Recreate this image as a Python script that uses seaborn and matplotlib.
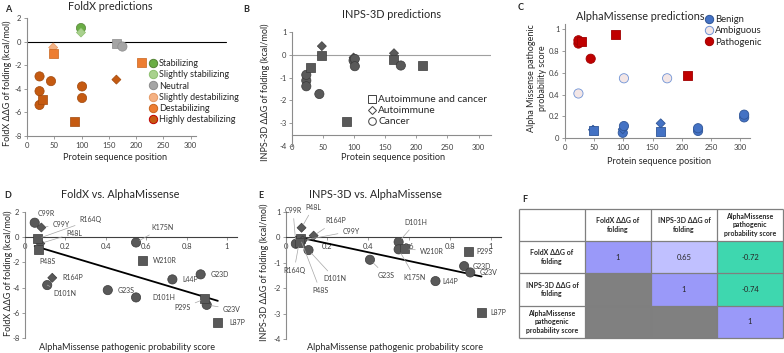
import numpy as np
import pandas as pd
import matplotlib
matplotlib.use("Agg")
import matplotlib.pyplot as plt
import seaborn as sns
from matplotlib.lines import Line2D
from matplotlib.colors import ListedColormap
from matplotlib.ticker import FuncFormatter

# ---------------- data ----------------
mutations = ["G23D", "G23S", "G23V", "P29S", "L44P", "P48L", "P48S", "L87P",
             "C99R", "C99Y", "D101H", "D101N", "R164P", "R164Q", "K175N", "W210R"]
positions = [23, 23, 23, 29, 44, 48, 48, 87, 99, 99, 101, 101, 164, 164, 175, 210]
disease = ["Cancer", "Cancer", "Cancer", "Autoimmune and cancer", "Cancer", "Autoimmune",
           "Autoimmune and cancer", "Autoimmune and cancer", "Cancer", "Autoimmune", "Cancer",
           "Cancer", "Autoimmune", "Autoimmune and cancer", "Cancer", "Autoimmune and cancer"]
foldx = [-2.95, -4.2, -5.37, -4.9, -3.35, -0.5, -0.97, -6.75, 1.15, 0.77, -4.78, -3.8,
         -3.22, -0.12, -0.42, -1.81]
inps = [-1.13, -0.88, -1.38, -0.55, -1.72, 0.38, -0.03, -2.94, -0.25, -0.12, -0.18, -0.5,
        0.07, -0.22, -0.47, -0.45]
alphamissense = [0.87, 0.41, 0.90, 0.89, 0.73, 0.076, 0.069, 0.955, 0.048, 0.081, 0.55,
                 0.11, 0.135, 0.064, 0.55, 0.58]

# extra AlphaMissense-only variants (panel C)
extra_positions = [228, 228, 307, 307]
extra_am = [0.065, 0.09, 0.19, 0.215]
extra_disease = ["Cancer", "Cancer", "Cancer", "Cancer"]

corr_labels = ["FoldX ΔΔG of\nfolding", "INPS-3D ΔΔG of\nfolding",
               "AlphaMissense\npathogenic\nprobability score"]
corr_values = [[1.0, 0.65, -0.72],
               [np.nan, 1.0, -0.74],
               [np.nan, np.nan, 1.0]]

fx_order = ["Stabilizing", "Slightly stabilizing", "Neutral", "Slightly destabilizing",
            "Destabilizing", "Highly destabilizing"]
am_order = ["Benign", "Ambiguous", "Pathogenic"]
disease_order = ["Autoimmune and cancer", "Autoimmune", "Cancer"]

# ---------------- frames ----------------
df = pd.DataFrame(dict(mutation=mutations, position=positions, disease=disease,
                       foldx=foldx, inps=inps, am=alphamissense))
df["fx_class"] = pd.cut(df.foldx, [-np.inf, -1.84, -0.92, -0.46, 0.46, 0.92, np.inf],
                        labels=fx_order[::-1]).astype(str)
dfc = pd.concat([df[["position", "am", "disease"]],
                 pd.DataFrame(dict(position=extra_positions, am=extra_am, disease=extra_disease))],
                ignore_index=True)
dfc["am_class"] = pd.cut(dfc.am, [-np.inf, 0.34, 0.564, np.inf], labels=am_order).astype(str)

# ---------------- style ----------------
sns.set_theme(style="white")
plt.rcParams["font.family"] = ["Lato", "DejaVu Sans"]
TXT = "#262626"
GRID = "#8C8C8C"

fx_fill = {"Stabilizing": "#6AAD45", "Slightly stabilizing": "#A9D18E", "Neutral": "#A5A5A5",
           "Slightly destabilizing": "#F4B183", "Destabilizing": "#ED7D31",
           "Highly destabilizing": "#C55A11"}
fx_edge = {"Stabilizing": "#548235", "Slightly stabilizing": "#8CBF6E", "Neutral": "#8C8C8C",
           "Slightly destabilizing": "#E59A66", "Destabilizing": "#C8641E",
           "Highly destabilizing": "#A0480C"}
am_fill = {"Benign": "#4472C4", "Ambiguous": "#F3E6E6", "Pathogenic": "#C00000"}
am_edge = {"Benign": "#2F5597", "Ambiguous": "#6F93D6", "Pathogenic": "#A00000"}
markers = {"Autoimmune and cancer": "s", "Autoimmune": "D", "Cancer": "o"}
sizes = {"Autoimmune and cancer": 42, "Autoimmune": 21, "Cancer": 44}

W, H = 784, 353
fig = plt.figure(figsize=(W / 100, H / 100), dpi=100)


def rect(box):
    l, t, r, b = box
    return [l / W, 1 - b / H, (r - l) / W, (b - t) / H]


def axc(box, px, py):
    l, t, r, b = box
    return (px - l) / (r - l), (b - py) / (b - t)


fmt = FuncFormatter(lambda v, p: f"{v:g}")


def style_axes(ax):
    for s in ["top", "right"]:
        ax.spines[s].set_visible(False)
    for s in ["left", "bottom"]:
        ax.spines[s].set_color(GRID)
        ax.spines[s].set_linewidth(0.8)
    ax.tick_params(axis="both", labelsize=5.5, length=2.5, width=0.6, color=GRID,
                   pad=1.5, labelcolor="#404040", bottom=True, left=True)
    ax.set_facecolor("none")
    ax.xaxis.set_major_formatter(fmt)
    ax.yaxis.set_major_formatter(fmt)


def set_labels(ax, box, xl, xpos, yl, ypos, xs=6.6, ys=6.5):
    ax.set_xlabel(xl, fontsize=xs, color=TXT)
    ax.set_ylabel(yl, fontsize=ys, color=TXT)
    ax.xaxis.set_label_coords(*axc(box, *xpos))
    ax.yaxis.set_label_coords(*axc(box, *ypos))
    ax.xaxis.label.set_va("center")
    ax.yaxis.label.set_va("center")


boxA = (27, 18, 196, 136)
boxB = (292, 32, 491, 146)
boxC = (565, 24, 750, 138)
boxD = (25, 212, 237, 338)
boxE = (286, 212, 501, 339)
boxF = (585, 241, 783, 338)

# ---------------- A ----------------
axA = fig.add_axes(rect(boxA))
style_axes(axA)
axA.axhline(0, color="black", lw=0.8, xmax=1.18, clip_on=False, zorder=1)
sns.scatterplot(data=df, x="position", y="foldx", hue="fx_class", palette=fx_fill,
                style="disease", markers=markers, size="disease", sizes=sizes,
                edgecolor=df.fx_class.map(fx_edge).tolist(), linewidth=0.5,
                legend=False, ax=axA, zorder=3)
axA.set_xlim(0, 310)
axA.set_ylim(-8, 2)
axA.set_xticks(range(0, 301, 50))
axA.set_yticks(range(-8, 3, 2))
set_labels(axA, boxA, "Protein sequence position", (115, 158),
           "FoldX ΔΔG of folding (kcal/mol)", (7, 83))
hA = [Line2D([0], [0], marker="o", ls="", markersize=6, markerfacecolor=fx_fill[k],
             markeredgecolor=("#C00000" if k == "Highly destabilizing" else fx_edge[k]),
             markeredgewidth=0.7, label=k) for k in fx_order]
axA.legend(handles=hA, loc="upper left", bbox_to_anchor=axc(boxA, 149, 59), frameon=False,
           fontsize=6.5, labelspacing=0.25, handlelength=0.8, handletextpad=0.3,
           borderpad=0, borderaxespad=0, labelcolor=TXT)

# ---------------- B ----------------
axB = fig.add_axes(rect(boxB))
style_axes(axB)
axB.axhline(0, color="#A0A0A0", lw=0.8, zorder=1)
sns.scatterplot(data=df, x="position", y="inps", style="disease", markers=markers,
                size="disease", sizes=sizes, color="#595959", edgecolor="#3A3A3A",
                linewidth=0.5, legend=False, ax=axB, zorder=3)
axB.set_xlim(0, 320)
axB.set_ylim(-4, 1)
axB.set_xticks(range(0, 301, 50))
axB.set_yticks(range(-4, 2, 1))
axB.spines["bottom"].set_position(("data", -3.5))
axB.tick_params(axis="x", pad=4)
set_labels(axB, boxB, "Protein sequence position", (393, 158),
           "INPS-3D ΔΔG of folding (kcal/mol)", (265, 92))
hB = [Line2D([0], [0], marker=markers[k], ls="", markersize=(4.5 if k == "Autoimmune" else 5.5),
             markerfacecolor="white", markeredgecolor="#404040", markeredgewidth=0.7, label=k)
      for k in disease_order]
axB.legend(handles=hB, loc="upper left", bbox_to_anchor=axc(boxB, 368, 95), frameon=False,
           fontsize=7.3, labelspacing=0.2, handlelength=0.7, handletextpad=0.3,
           borderpad=0, borderaxespad=0, labelcolor=TXT)

# ---------------- C ----------------
axC = fig.add_axes(rect(boxC))
style_axes(axC)
sns.scatterplot(data=dfc, x="position", y="am", hue="am_class", palette=am_fill,
                style="disease", markers=markers, size="disease", sizes=sizes,
                edgecolor=dfc.am_class.map(am_edge).tolist(), linewidth=0.6,
                legend=False, ax=axC, zorder=3)
axC.set_xlim(0, 317)
axC.set_ylim(0, 1.05)
axC.set_xticks(range(0, 301, 50))
axC.set_yticks([0, 0.2, 0.4, 0.6, 0.8, 1.0])
set_labels(axC, boxC, "Protein sequence position", (659, 162),
           "Alpha Missense pathogenic\nprobability score", (537, 78))
hC = [Line2D([0], [0], marker="o", ls="", markersize=6, markerfacecolor=am_fill[k],
             markeredgecolor=am_edge[k], markeredgewidth=0.7, label=k) for k in am_order]
axC.legend(handles=hC, loc="upper left", bbox_to_anchor=axc(boxC, 705, 15), frameon=False,
           fontsize=6.8, labelspacing=0.25, handlelength=0.8, handletextpad=0.3,
           borderpad=0, borderaxespad=0, labelcolor=TXT)


# ---------------- D & E ----------------
def label_points(ax, ycol, offsets, leaders):
    for _, row in df.iterrows():
        dx, dy = offsets[row.mutation]
        ap = (dict(arrowstyle="-", color="#A6A6A6", lw=0.5, shrinkA=1, shrinkB=3)
              if row.mutation in leaders else None)
        ax.annotate(row.mutation, (row.am, row[ycol]), xytext=(dx, dy),
                    textcoords="offset points", ha="center", va="center", fontsize=5,
                    color="#404040", arrowprops=ap, zorder=4)


def corr_panel(box, ycol, ylim, yticks, ylab, ylabpos, xlabpos, offsets, leaders):
    ax = fig.add_axes(rect(box))
    style_axes(ax)
    sns.regplot(data=df, x="am", y=ycol, scatter=False, ci=None, color="black",
                line_kws=dict(lw=1.3), ax=ax)
    sns.scatterplot(data=df, x="am", y=ycol, style="disease", markers=markers,
                    size="disease", sizes=sizes, color="#595959", edgecolor="#3A3A3A",
                    linewidth=0.5, legend=False, ax=ax, zorder=3)
    ax.set_xlim(0, 1.05)
    ax.set_ylim(*ylim)
    ax.set_xticks([0, 0.2, 0.4, 0.6, 0.8, 1.0])
    ax.set_yticks(yticks)
    ax.spines["bottom"].set_position(("data", 0))
    ax.spines["bottom"].set_color("#404040")
    set_labels(ax, box, "AlphaMissense pathogenic probability score", xlabpos, ylab, ylabpos)
    label_points(ax, ycol, offsets, leaders)
    return ax


offD = {"C99R": (8.4, 6.8), "C99Y": (14.4, 2.5), "R164Q": (38, 13.5), "P48L": (24.7, 7.5),
        "P48S": (6.5, -8.4), "K175N": (19, 10.8), "W210R": (16.5, 0), "R164P": (14.4, 0),
        "D101N": (12.5, -6.3), "G23S": (13, 0), "D101H": (19.7, 0), "L44P": (13, 0),
        "G23D": (13.7, 0), "P29S": (-16, -6.5), "G23V": (18, -3), "L87P": (13.7, 0)}
leadD = {"C99Y", "R164Q", "P48L", "K175N", "D101N", "P29S", "G23V"}
axD = corr_panel(boxD, "foldx", (-8, 2), range(-8, 3, 2), "FoldX ΔΔG of folding (kcal/mol)",
                 (8, 273), (127, 348), offD, leadD)

offE = {"C99R": (-2, 24), "P48L": (8.4, 14.8), "R164P": (16, 10.6), "C99Y": (35, 6.7),
        "R164Q": (-3.6, -19.7), "D101N": (19, -20.6), "P48S": (14.4, -37.6),
        "G23S": (11.5, -11.2), "D101H": (12.6, 14.3), "K175N": (11.7, -20.4),
        "W210R": (19.5, -1.7), "P29S": (12, 0), "G23D": (12.5, 0), "G23V": (13.5, 0),
        "L44P": (10.3, 0), "L87P": (12, 0)}
leadE = {"C99R", "P48L", "R164P", "C99Y", "R164Q", "D101N", "P48S", "G23S", "D101H",
         "K175N", "W210R"}
axE = corr_panel(boxE, "inps", (-4, 1), range(-4, 2, 1), "INPS-3D ΔΔG of folding (kcal/mol)",
                 (264, 272), (395, 348), offE, leadE)

# ---------------- F ----------------
axF = fig.add_axes(rect(boxF))
vals = np.array(corr_values, dtype=float)
mask = np.isnan(vals)
cidx = np.where(vals == 1, 0, np.where(vals > 0, 1, 2))
annot = np.where(mask, "", np.vectorize(lambda v: f"{v:g}")(np.nan_to_num(vals)))
sns.heatmap(pd.DataFrame(cidx, index=corr_labels, columns=corr_labels), mask=mask,
            cmap=ListedColormap(["#9A99F9", "#C0C0FF", "#3ED7AF"]), vmin=-0.5, vmax=2.5,
            annot=annot, fmt="", cbar=False, xticklabels=False, yticklabels=False,
            annot_kws=dict(fontsize=5.5, color=TXT), ax=axF)
axF.set_facecolor("#808080")
axF.set_xlabel("")
axF.set_ylabel("")
n = len(corr_labels)
axF.hlines(range(-1, n + 1), -1, n, colors="#7F7F7F", lw=0.9, clip_on=False)
axF.vlines(range(-1, n + 1), -1, n, colors="#7F7F7F", lw=0.9, clip_on=False)
for i, lab in enumerate(corr_labels):
    axF.text(-0.5, i + 0.5, lab, ha="center", va="center", fontsize=5, fontweight="bold",
             color=TXT, clip_on=False, linespacing=1.3)
    axF.text(i + 0.5, -0.5, lab, ha="center", va="center", fontsize=5, fontweight="bold",
             color=TXT, clip_on=False, linespacing=1.3)
for s in axF.spines.values():
    s.set_visible(False)

# ---------------- titles & panel letters ----------------
titles = [("FoldX predictions", 110, 6), ("INPS-3D predictions", 392, 15),
          ("AlphaMissense predictions", 640, 16), ("FoldX vs. AlphaMissense", 120, 195),
          ("INPS-3D vs. AlphaMissense", 375, 195)]
for t, x, y in titles:
    fig.text(x / W, 1 - y / H, t, ha="center", va="center", fontsize=7.8, color=TXT)
letters = [("A", 5, 9), ("B", 243, 9), ("C", 518, 8), ("D", 4, 195), ("E", 258, 195),
           ("F", 522, 200)]
for t, x, y in letters:
    fig.text(x / W, 1 - y / H, t, ha="left", va="center", fontsize=6.5, fontweight="bold",
             color=TXT)

fig.savefig("out.png", dpi=100)
